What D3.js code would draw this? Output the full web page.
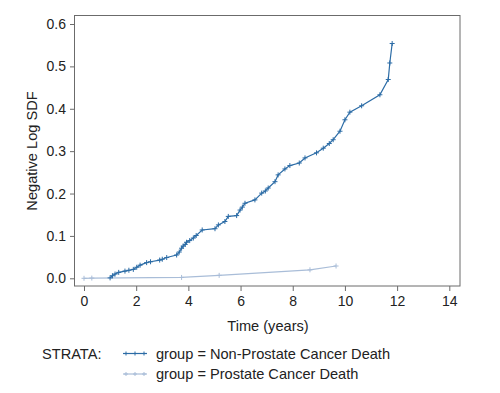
<!DOCTYPE html>
<html><head><meta charset="utf-8">
<script src="https://cdn.jsdelivr.net/npm/d3@7"></script>
<style>
body{margin:0;background:#fff;}
text{font-family:"Liberation Sans",Arial,Helvetica,sans-serif;fill:#222;}
</style></head>
<body><svg id="c" width="500" height="393"></svg>
<script>
// Data
const nonProstateTime = [1.0,1.09,1.19,1.33,1.57,1.72,1.89,2.02,2.15,2.4,2.55,2.9,3.0,3.17,3.55,3.65,3.74,3.8,3.88,3.93,4.05,4.19,4.3,4.53,5.02,5.15,5.4,5.53,5.85,5.98,6.07,6.17,6.55,6.81,6.95,7.06,7.32,7.44,7.7,7.89,8.25,8.47,8.91,9.17,9.4,9.55,9.81,10.0,10.19,10.64,11.34,11.66,11.72,11.81];
const nonProstateValue = [0.001,0.006,0.010,0.014,0.017,0.019,0.021,0.026,0.031,0.037,0.039,0.043,0.045,0.049,0.055,0.062,0.071,0.076,0.080,0.085,0.089,0.095,0.101,0.114,0.117,0.126,0.134,0.146,0.148,0.161,0.168,0.177,0.185,0.201,0.206,0.213,0.228,0.244,0.258,0.266,0.272,0.284,0.296,0.307,0.318,0.327,0.347,0.374,0.392,0.407,0.433,0.469,0.508,0.554];
const prostateTime = [0,0.3,3.74,5.18,8.66,9.66];
const prostateValue = [0,0.0005,0.002,0.007,0.020,0.029];
const xTicks = [0,2,4,6,8,10,12,14];
const yTicks = [0,0.1,0.2,0.3,0.4,0.5,0.6];
const seriesNames = ["group = Non-Prostate Cancer Death","group = Prostate Cancer Death"];
const seriesColors = ["#2c6ca6","#a9bdd8"];

const svg = d3.select("#c");
const L=74,R=460,T=15.5,B=286;
const x = d3.scaleLinear().domain([0,14]).range([84,449.3]);
const y = d3.scaleLinear().domain([0,0.6]).range([278.3,24]);

svg.append("rect").attr("x",L+0.5).attr("y",T).attr("width",R-L-0.5).attr("height",B-T)
  .attr("fill","none").attr("stroke","#6b6b6b").attr("stroke-width",1);

const xa = svg.append("g").attr("transform",`translate(0,${B})`)
  .call(d3.axisBottom(x).tickValues(xTicks).tickSize(5).tickPadding(5).tickFormat(d3.format("d")));
const ya = svg.append("g").attr("transform",`translate(${L},0)`)
  .call(d3.axisLeft(y).tickValues(yTicks).tickSize(4).tickPadding(4).tickFormat(d3.format(".1f")));
[xa,ya].forEach(a=>{
  a.select(".domain").remove();
  a.selectAll(".tick line").attr("stroke","#6b6b6b");
  a.selectAll(".tick text").attr("font-size",14).attr("fill","#222")
   .attr("font-family","'Liberation Sans',Arial,sans-serif");
});

const series = [
  {t:prostateTime,v:prostateValue,c:seriesColors[1]},
  {t:nonProstateTime,v:nonProstateValue,c:seriesColors[0]}
];
const line = d3.line().x(d=>x(d[0])).y(d=>y(d[1]));
const plus = "M-2.5,0H2.5M0,-2.5V2.5";
series.forEach(s=>{
  const pts = s.t.map((t,i)=>[t,s.v[i]]);
  svg.append("path").datum(pts).attr("d",line).attr("fill","none")
    .attr("stroke",s.c).attr("stroke-width",1.2);
  svg.append("g").selectAll("path").data(pts).join("path")
    .attr("transform",d=>`translate(${x(d[0])},${y(d[1])})`)
    .attr("d",plus).attr("stroke",s.c).attr("stroke-width",1);
});

svg.append("text").attr("x",268).attr("y",331).attr("text-anchor","middle")
  .attr("font-size",14.6).text("Time (years)");
svg.append("text").attr("transform","translate(37,151) rotate(-90)").attr("text-anchor","middle")
  .attr("font-size",14.6).text("Negative Log SDF");

svg.append("text").attr("x",42).attr("y",358.5).attr("font-size",14.6).text("STRATA:");
seriesNames.forEach((n,i)=>{
  const yy = 353.5 + i*20.5;
  const c = seriesColors[i];
  svg.append("line").attr("x1",123).attr("x2",147).attr("y1",yy).attr("y2",yy)
    .attr("stroke",c).attr("stroke-width",1.2);
  [126,135,144].forEach(px=>svg.append("path").attr("transform",`translate(${px},${yy})`)
    .attr("d","M-2,0H2M0,-2V2").attr("stroke",c).attr("stroke-width",1));
  svg.append("text").attr("x",156).attr("y",yy+5).attr("font-size",14.6).text(n);
});
</script></body></html>
